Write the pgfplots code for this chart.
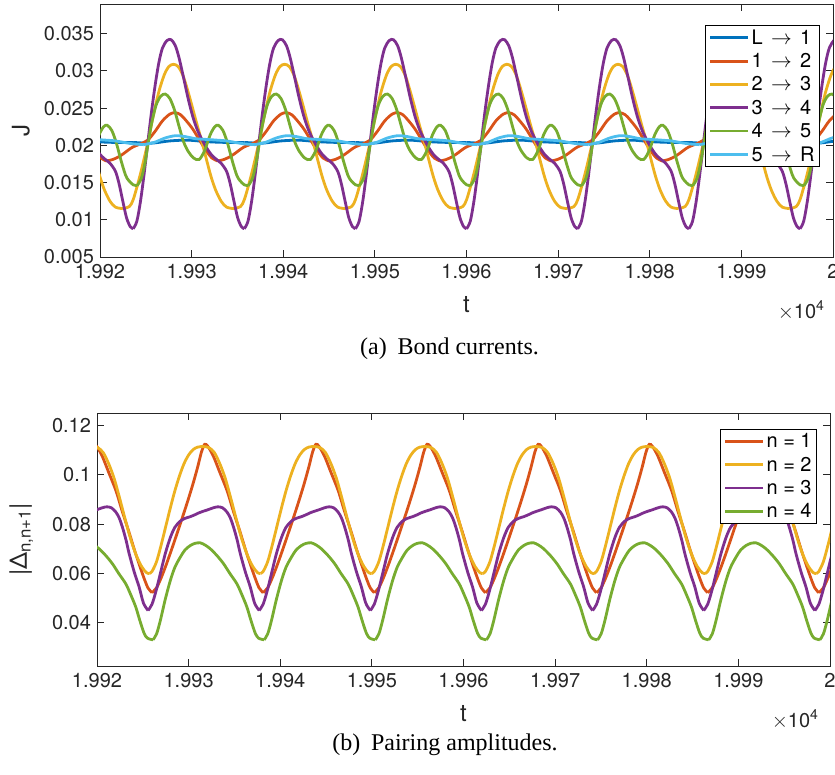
\documentclass[border=0pt]{standalone}
\usepackage{fontspec}
\setmainfont{Liberation Serif}
\newfontfamily\hv{TeX Gyre Heros}
\usepackage{pgfplots}
\usepackage{pgfplotstable}
\pgfplotsset{compat=1.18}
\definecolor{mblue}{rgb}{0,0.447,0.741}
\definecolor{morange}{rgb}{0.850,0.325,0.098}
\definecolor{myellow}{rgb}{0.929,0.694,0.125}
\definecolor{mpurple}{rgb}{0.494,0.184,0.556}
\definecolor{mgreen}{rgb}{0.466,0.674,0.188}
\definecolor{mcyan}{rgb}{0.301,0.745,0.933}
\definecolor{axgray}{rgb}{0.15,0.15,0.15}

% ---- one period of each bond current, tau = t - t0 (t0 = purple minimum) ----
\pgfplotstableread{
tau J
0 0.0204
2.0 0.0203
4.0 0.0206
6.0 0.0207
8.0 0.0205
10.0 0.0204
12.13 0.0204
}\tabLa
\pgfplotstableread{
tau J
-2.89 0.0179
-2.23 0.0181
-1.53 0.0185
-0.93 0.0190
-0.5 0.0194
0 0.0198
1.0 0.0203
1.6 0.0207
2.4 0.0219
3.2 0.0233
4.0 0.0242
4.6 0.0244
5.2 0.0241
5.8 0.0233
6.5 0.0222
7.2 0.0208
7.9 0.0194
8.6 0.0183
9.24 0.0179
}\tabOa
\pgfplotstableread{
tau J
-1.13 0.0115
-0.4 0.0118
0 0.0127
0.5 0.0148
1.0 0.0172
1.6 0.0204
2.2 0.0240
2.8 0.0272
3.4 0.0295
3.9 0.0306
4.4 0.0309
4.9 0.0306
5.4 0.0295
5.9 0.0276
6.4 0.0254
6.9 0.0231
7.5 0.0205
8.0 0.0181
8.5 0.0158
9.0 0.0140
9.6 0.0125
10.2 0.0117
11.0 0.0115
}\tabYa
\pgfplotstableread{
tau J
0 0.0088
0.4 0.0098
0.8 0.0125
1.2 0.0162
1.6 0.0204
2.0 0.0245
2.4 0.0281
2.8 0.0311
3.2 0.0331
3.7 0.0341
4.15 0.0342
4.6 0.0334
5.0 0.0318
5.5 0.0291
6.0 0.0263
6.5 0.0239
7.0 0.0221
7.5 0.0208
8.0 0.0197
8.5 0.0188
9.0 0.0182
9.6 0.0176
10.2 0.0165
10.6 0.0148
11.0 0.0125
11.4 0.0103
11.8 0.0091
12.13 0.0088
}\tabPa
\pgfplotstableread{
tau J
0.44 0.0146
0.9 0.0156
1.3 0.0177
1.6 0.0200
2.0 0.0229
2.5 0.0254
3.0 0.0266
3.5 0.0269
4.0 0.0263
4.5 0.0248
5.0 0.0226
5.5 0.0205
6.0 0.0192
6.6 0.0183
7.2 0.0181
7.8 0.0193
8.4 0.0214
8.9 0.0225
9.3 0.0227
9.8 0.0220
10.3 0.0203
10.8 0.0180
11.3 0.0160
11.63 0.0153
12.13 0.0147
12.57 0.0146
}\tabGa
\pgfplotstableread{
tau J
1.16 0.0201
2.3 0.0204
3.5 0.0210
4.6 0.0213
5.6 0.0212
6.8 0.0209
8.0 0.0208
9.2 0.0207
10.2 0.0206
11.13 0.0204
12.13 0.0202
13.29 0.0201
}\tabCa

% ---- one period of each pairing amplitude, tau = t - t0 (t0 = n=1 minimum) ----
\pgfplotstableread{
tau D
0 0.0522
0.5 0.0542
1.0 0.0582
1.5 0.0630
2.0 0.0682
2.5 0.0736
3.0 0.0791
3.5 0.0847
4.0 0.0905
4.5 0.0966
5.0 0.1033
5.4 0.1092
5.75 0.1123
6.1 0.1115
6.7 0.1075
7.4 0.1010
8.2 0.0935
8.9 0.0850
9.6 0.0770
10.2 0.0697
10.8 0.0630
11.3 0.0577
11.7 0.0541
12.13 0.0522
}\tabOb
\pgfplotstableread{
tau D
-0.29 0.0600
0 0.0608
0.5 0.0648
1.0 0.0715
1.5 0.0790
2.0 0.0865
2.5 0.0935
3.0 0.0995
3.5 0.1045
4.0 0.1080
4.5 0.1102
5.0 0.1112
5.6 0.1114
6.2 0.1110
6.8 0.1090
7.4 0.1045
8.0 0.0985
8.6 0.0905
9.2 0.0820
9.8 0.0740
10.4 0.0675
11.0 0.0628
11.53 0.0603
11.84 0.0600
}\tabYb
\pgfplotstableread{
tau D
-0.43 0.0450
0 0.0475
0.45 0.0530
0.91 0.0599
1.45 0.0680
2.0 0.0745
2.5 0.0787
3.09 0.0812
3.6 0.0823
4.18 0.0830
4.7 0.0838
5.09 0.0845
5.6 0.0852
6.1 0.0858
6.7 0.0866
7.2 0.0870
7.7 0.0866
8.18 0.0849
8.55 0.0825
8.9 0.0788
9.3 0.0735
9.64 0.0680
10.2 0.0605
10.73 0.0545
11.2 0.0480
11.7 0.0450
}\tabPb
\pgfplotstableread{
tau D
0.11 0.0331
0.5 0.0355
0.91 0.0409
1.45 0.0495
2.0 0.0571
2.5 0.0625
3.09 0.0666
3.6 0.0695
4.18 0.0713
4.7 0.0722
5.27 0.0724
5.8 0.0715
6.36 0.0700
7.1 0.0672
7.82 0.0639
8.5 0.0600
9.27 0.0558
9.8 0.0515
10.36 0.0464
10.8 0.0410
11.27 0.0358
11.63 0.0338
12.24 0.0331
}\tabGb

% repeat a one-period table along t (period 12.13)
\newcommand{\periodic}[4]{%
  \pgfplotsinvokeforeach{-1,0,1,2,3,4,5,6}{%
    \addplot[#2, forget plot] table[x expr=\thisrow{tau}+#3+##1*12.13, y=#4] {#1};}}

\pgfplotsset{
  mstyle/.style={
    scale only axis, width=733pt, height=253pt,
    xmin=0, xmax=80, xtick={0,10,...,80},
    xticklabels={1.992,1.993,1.994,1.995,1.996,1.997,1.998,1.999,2},
    scaled x ticks=false, scaled y ticks=false,
    axis line style={line width=1pt, draw=axgray},
    every tick/.style={line width=1pt, draw=axgray},
    major tick length=7pt,
    tick label style={font=\hv\fontsize{20}{24}\selectfont, text=axgray},
    xticklabel style={yshift=-4pt},
    yticklabel style={xshift=-2.5pt},
    label style={font=\hv\fontsize{24}{28}\selectfont, text=axgray},
    xlabel={t},
    xlabel style={at={(axis description cs:0.5,0)}, anchor=base, yshift=-55pt},
    every axis plot/.append style={line width=2.8pt, smooth},
    legend style={anchor=north east, draw=black, line width=0.8pt,
      font=\hv\fontsize{20}{24}\selectfont, inner xsep=3pt, inner ysep=2pt,
      row sep=3.6pt},
    legend cell align=left,
    legend image code/.code={\draw[##1, line width=2.8pt] (0pt,0pt) -- (38pt,0pt);},
  }
}
\newcommand{\arr}{\hspace{.42em}$\rightarrow$\hspace{.42em}}

\begin{document}
\begin{tikzpicture}
\useasboundingbox (0,0) rectangle (835pt,-774pt);
\begin{axis}[mstyle, name=top, at={(100pt,-4pt)}, anchor=north west,
  ymin=0.005, ymax=0.039,
  ytick={0.005,0.01,0.015,0.02,0.025,0.03,0.035},
  yticklabels={0.005,0.01,0.015,0.02,0.025,0.03,0.035},
  legend style={at={(axis description cs:0.9823,0.916)}},
  ylabel={J}, ylabel style={at={(axis description cs:-0.108,0.5)}, anchor=center}]
\periodic{\tabLa}{mblue}{3.62}{J}
\periodic{\tabOa}{morange}{3.62}{J}
\periodic{\tabYa}{myellow}{3.62}{J}
\periodic{\tabPa}{mpurple}{3.62}{J}
\periodic{\tabGa}{mgreen}{3.62}{J}
\periodic{\tabCa}{mcyan}{3.62}{J}
\addlegendimage{mblue}\addlegendentry{L\arr 1}
\addlegendimage{morange}\addlegendentry{1\arr 2}
\addlegendimage{myellow}\addlegendentry{2\arr 3}
\addlegendimage{mpurple}\addlegendentry{3\arr 4}
\addlegendimage{mgreen}\addlegendentry{4\arr 5}
\addlegendimage{mcyan}\addlegendentry{5\arr R}
\end{axis}
\node[anchor=base east, font=\hv\fontsize{20}{24}\selectfont, text=axgray]
  at ([xshift=-5pt, yshift=-61pt]top.south east) {$\times$10\textsuperscript{4}};
\node[anchor=base, font=\fontsize{24}{28}\selectfont] at (449.5pt,-354pt) {(a)\hspace{0.45em}Bond currents.};

\begin{axis}[mstyle, name=bot, at={(97pt,-413pt)}, anchor=north west,
  ymin=0.0225, ymax=0.125,
  ytick={0.04,0.06,0.08,0.1,0.12},
  yticklabels={0.04,0.06,0.08,0.1,0.12},
  legend style={at={(axis description cs:0.9823,0.936)}},
  ylabel={|Δ\textsubscript{n,n+1}|}, ylabel style={at={(axis description cs:-0.1033,0.5)}, anchor=center}]
\periodic{\tabOb}{morange}{6.0}{D}
\periodic{\tabYb}{myellow}{6.0}{D}
\periodic{\tabPb}{mpurple}{6.0}{D}
\periodic{\tabGb}{mgreen}{6.0}{D}
\addlegendimage{morange}\addlegendentry{n = 1}
\addlegendimage{myellow}\addlegendentry{n = 2}
\addlegendimage{mpurple}\addlegendentry{n = 3}
\addlegendimage{mgreen}\addlegendentry{n = 4}
\end{axis}
\node[anchor=base east, font=\hv\fontsize{20}{24}\selectfont, text=axgray]
  at ([xshift=-8pt, yshift=-61pt]bot.south east) {$\times$10\textsuperscript{4}};
\node[anchor=base, font=\fontsize{24}{28}\selectfont] at (445pt,-750pt) {(b)\hspace{0.45em}Pairing amplitudes.};
\end{tikzpicture}
\end{document}
